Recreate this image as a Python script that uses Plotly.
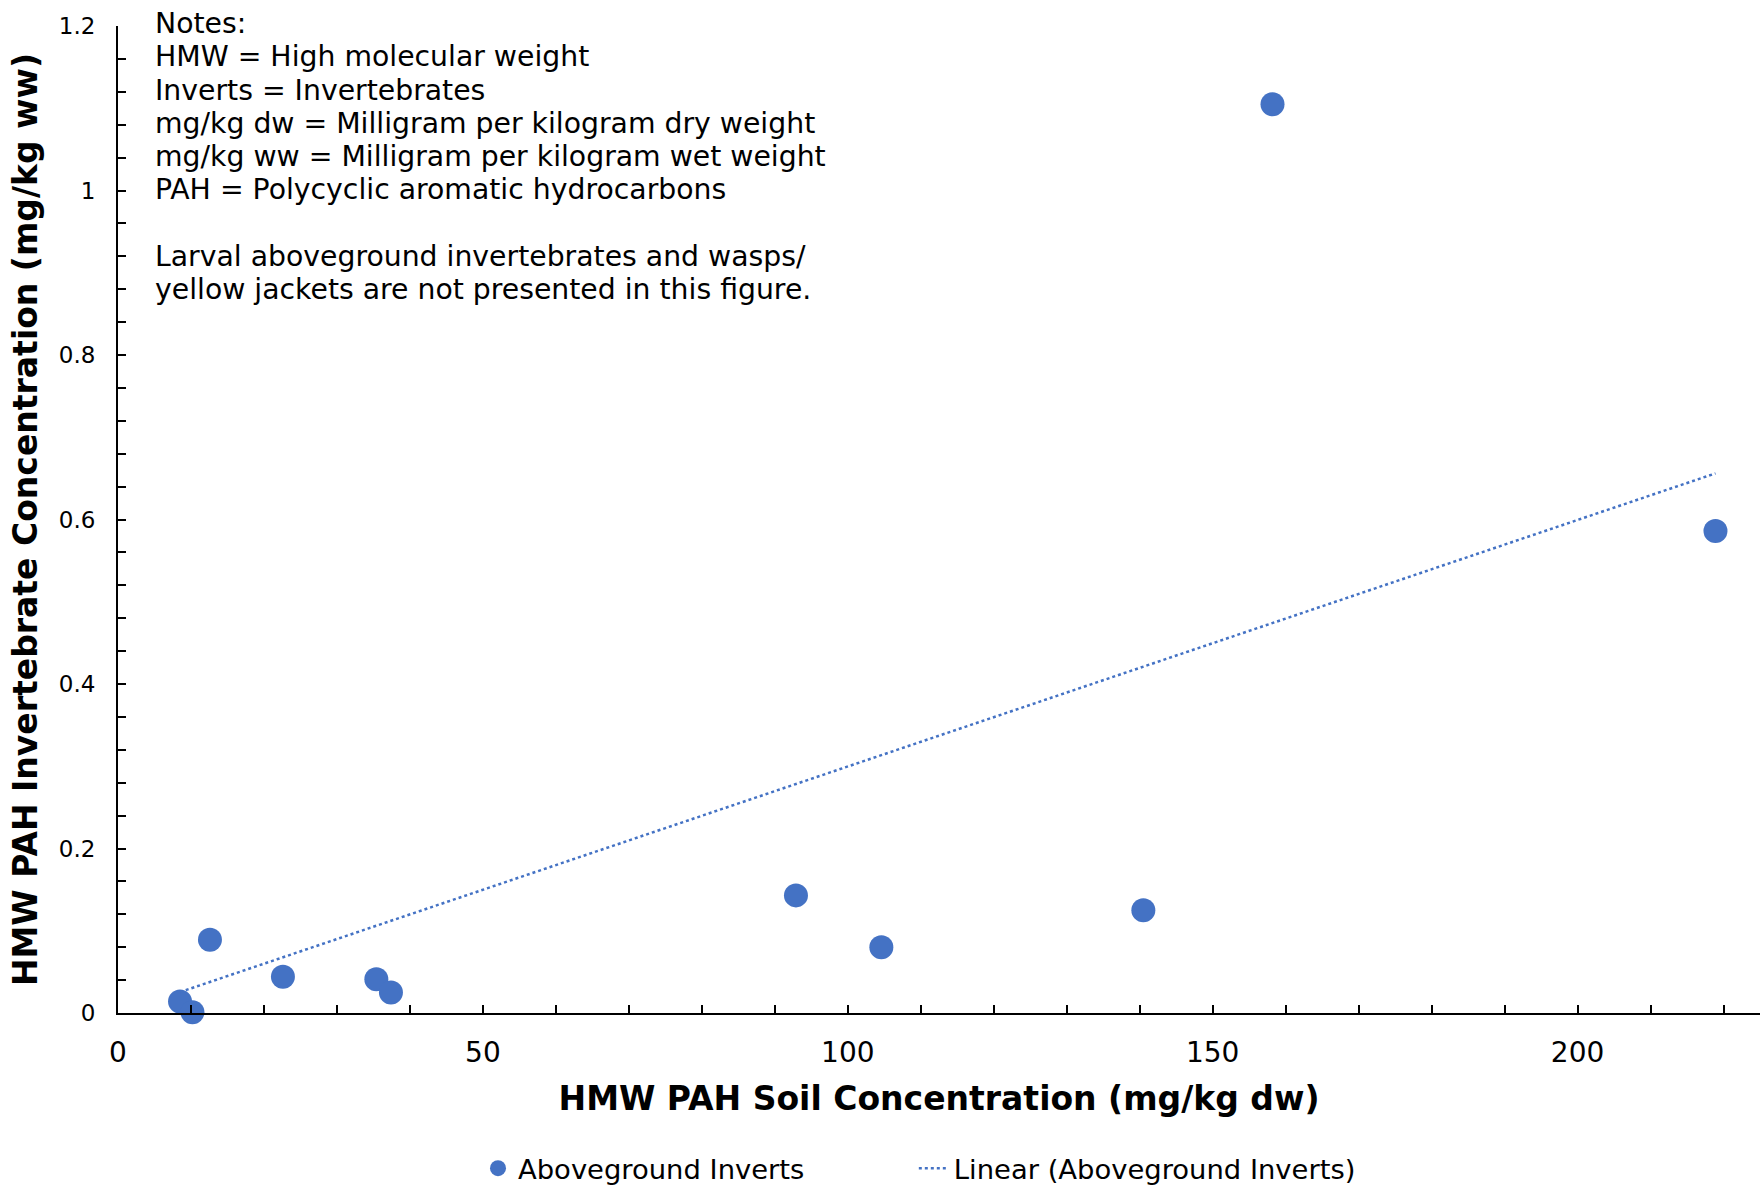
import numpy as np
import plotly.graph_objects as go

# Data
soil_conc = [8.5, 10.2, 12.6, 22.6, 35.4, 37.4, 92.9, 104.6, 140.5, 158.2, 218.9]
invert_conc = [0.014, 0.001, 0.089, 0.044, 0.041, 0.025, 0.143, 0.080, 0.125, 1.105, 0.586]
x_ticks = [0, 50, 100, 150, 200]
y_ticks = [0, 0.2, 0.4, 0.6, 0.8, 1, 1.2]
y_tick_text = ["0", "0.2", "0.4", "0.6", "0.8", "1", "1.2"]

notes_lines = [
    "Notes:",
    "HMW = High molecular weight",
    "Inverts = Invertebrates",
    "mg/kg dw = Milligram per kilogram dry weight",
    "mg/kg ww = Milligram per kilogram wet weight",
    "PAH = Polycyclic aromatic hydrocarbons",
    "",
    "Larval aboveground invertebrates and wasps/",
    "yellow jackets are not presented in this figure.",
]

# Linear trendline (intercept set to zero)
xs = np.array(soil_conc)
ys = np.array(invert_conc)
slope = float(np.sum(xs * ys) / np.sum(xs * xs))
trend_x = [float(xs.min()), float(xs.max())]
trend_y = [slope * v for v in trend_x]

BLUE = "#4472C4"
FONT = "Verdana, DejaVu Sans, sans-serif"
NBSP = "\u00a0"

W, H = 1760, 1193
M_L, M_R, M_T, M_B = 118, 0, 26, 176
PLOT_H = H - M_T - M_B
PLOT_W = W - M_L - M_R

fig = go.Figure()
fig.add_trace(go.Scatter(
    x=soil_conc, y=invert_conc, mode="markers",
    name="Aboveground Inverts" + NBSP * 12,
    marker=dict(color=BLUE, size=24, line=dict(width=0)),
    cliponaxis=False,
))
fig.add_trace(go.Scatter(
    x=trend_x, y=trend_y, mode="lines",
    name="Linear (Aboveground Inverts)",
    line=dict(color=BLUE, width=2.5, dash="dot"),
))

# Notes block, one annotation per line
first_line_px = 23.6
line_step_px = 33.4
for i, line in enumerate(notes_lines):
    if not line:
        continue
    ypix = first_line_px + i * line_step_px
    fig.add_annotation(
        xref="paper", yref="paper",
        x=(153 - M_L) / PLOT_W, y=1 - (ypix - M_T) / PLOT_H,
        xanchor="left", yanchor="middle", align="left",
        text=line, showarrow=False,
        font=dict(family=FONT, size=28.3, color="#000000"),
    )

fig.update_layout(
    width=W, height=H,
    paper_bgcolor="white", plot_bgcolor="white",
    margin=dict(l=M_L, r=M_R, t=M_T, b=M_B),
    font=dict(family=FONT, color="#000000"),
    showlegend=True,
    legend=dict(
        orientation="h", x=(478 - M_L) / PLOT_W, xanchor="left",
        y=1 - (1173 - M_T) / PLOT_H, yanchor="middle",
        font=dict(family=FONT, size=27.4, color="#000000"),
    ),
    xaxis=dict(
        range=[0, 225], tickvals=x_ticks,
        showgrid=False, zeroline=False,
        showline=True, linecolor="#000000", linewidth=2,
        ticks="inside", ticklen=8, tickwidth=2, tickcolor="#000000",
        ticklabelstandoff=13,
        tickfont=dict(family=FONT, size=28, color="#000000"),
        minor=dict(dtick=10, tick0=0, ticks="inside", ticklen=8, tickwidth=2, tickcolor="#000000", showgrid=False),
        title=dict(text="<b>HMW PAH Soil Concentration (mg/kg dw)</b>",
                   font=dict(family=FONT, size=33, color="#000000"), standoff=19),
    ),
    yaxis=dict(
        range=[0, 1.2], tickvals=y_ticks, ticktext=y_tick_text,
        showgrid=False, zeroline=False,
        showline=True, linecolor="#000000", linewidth=2,
        ticks="inside", ticklen=8, tickwidth=2, tickcolor="#000000",
        ticklabelstandoff=16,
        tickfont=dict(family=FONT, size=23, color="#000000"),
        minor=dict(dtick=0.04, tick0=0, ticks="inside", ticklen=8, tickwidth=2, tickcolor="#000000", showgrid=False),
        title=dict(text="<b>HMW PAH Invertebrate Concentration (mg/kg ww)</b>",
                   font=dict(family=FONT, size=33, color="#000000"), standoff=11),
    ),
)

fig.write_html("out.html")
